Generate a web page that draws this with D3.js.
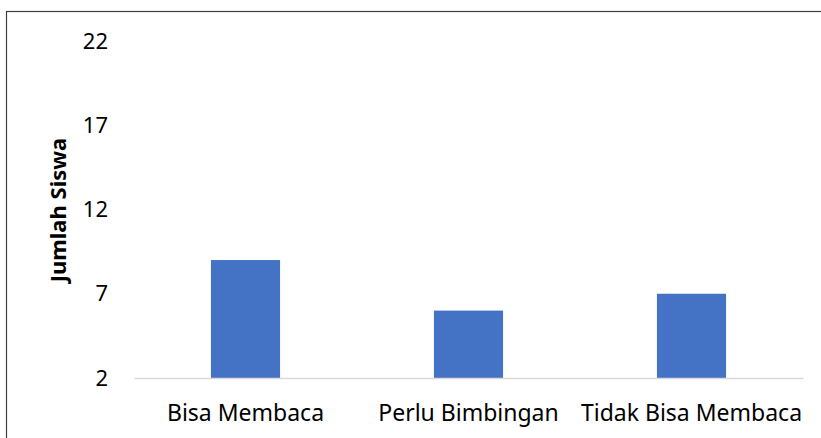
<!DOCTYPE html>
<html>
<head>
<meta charset="utf-8">
<script src="https://cdn.jsdelivr.net/npm/d3@7"></script>
<style>
  body { margin: 0; background: #fff; }
  text { font-family: "Noto Sans", "Open Sans", sans-serif; fill: #000; }
</style>
</head>
<body>
<div id="chart-area"></div>
<script>
// chart data
const categories = ["Bisa Membaca", "Perlu Bimbingan", "Tidak Bisa Membaca"];
const jumlahSiswa = [9, 6, 7];
const yTicks = [2, 7, 12, 17, 22];

const width = 821, height = 438;

const svg = d3.select("#chart-area")
    .append("svg")
        .attr("width", width)
        .attr("height", height);

// outer chart border (runs off the right and bottom edges)
svg.append("rect")
    .attr("x", 6.5)
    .attr("y", 11.5)
    .attr("width", 1000)
    .attr("height", 1000)
    .attr("fill", "none")
    .attr("stroke", "#404040")
    .attr("stroke-width", 1.2);

const x = d3.scaleBand()
    .domain(categories)
    .range([134, 803])
    .paddingInner(0.69)
    .paddingOuter(0.345);

const y = d3.scaleLinear()
    .domain([2, 22])
    .range([378, 41]);

// bars
svg.selectAll(".bar")
    .data(jumlahSiswa)
    .enter()
    .append("rect")
        .attr("class", "bar")
        .attr("x", (d, i) => x(categories[i]))
        .attr("y", (d) => y(d))
        .attr("width", x.bandwidth())
        .attr("height", (d) => y(2) - y(d))
        .attr("fill", "#4472C4");

// y axis tick labels
const yAxis = d3.axisLeft(y)
    .tickValues(yTicks)
    .tickSize(0)
    .tickPadding(0);

svg.append("g")
    .attr("transform", "translate(108,0)")
    .call(yAxis)
    .call((g) => g.select(".domain").remove())
    .selectAll("text")
        .attr("font-size", 22)
        .attr("font-family", "'Noto Sans', sans-serif")
        .attr("fill", "#000");

// x axis line and labels
const xAxis = d3.axisBottom(x)
    .tickSize(0)
    .tickPadding(0);

const gx = svg.append("g")
    .attr("transform", `translate(0,${y(2)})`)
    .call(xAxis);

gx.select(".domain")
    .attr("stroke", "#d9d9d9")
    .attr("stroke-width", 1.5);

gx.selectAll("text")
    .attr("font-size", 23)
    .attr("font-family", "'Noto Sans', sans-serif")
    .attr("fill", "#000")
    .attr("dy", null)
    .attr("y", 43);

// y axis title
svg.append("text")
    .attr("transform", "translate(66,210) rotate(-90)")
    .attr("text-anchor", "middle")
    .attr("font-size", 22)
    .attr("font-weight", "bold")
    .text("Jumlah Siswa");
</script>
</body>
</html>
